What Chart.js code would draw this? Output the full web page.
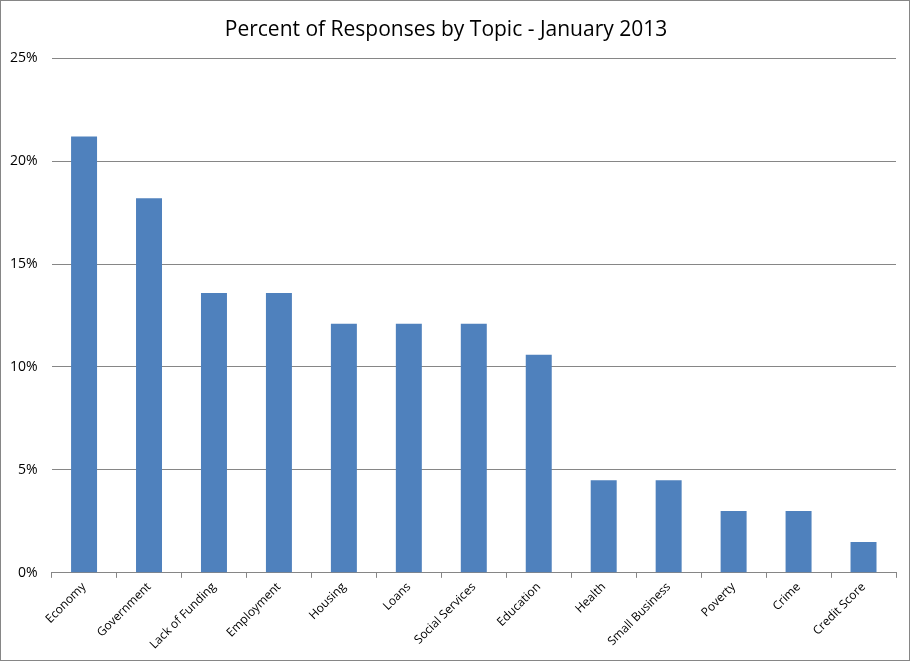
<!DOCTYPE html>
<html lang="en">
<head>
    <meta charset="UTF-8">
    <title>Percent of Responses by Topic - January 2013</title>
    <style>
        body {
            margin: 0;
            padding: 0;
            background: #ffffff;
        }

        .frame {
            position: absolute;
            left: 0;
            top: 0;
            width: 908px;
            height: 659px;
            border: 1px solid #868686;
        }
    </style>
</head>
<body>
    <div class="frame">
        <canvas id="chart" width="908" height="659"></canvas>
    </div>

    <script src="https://cdn.jsdelivr.net/npm/chart.js"></script>
    <script>
        const topics = ['Economy', 'Government', 'Lack of Funding', 'Employment', 'Housing', 'Loans',
            'Social Services', 'Education', 'Health', 'Small Business', 'Poverty', 'Crime', 'Credit Score'];
        const percents = [21.2, 18.2, 13.6, 13.6, 12.1, 12.1, 12.1, 10.6, 4.5, 4.5, 3.0, 3.0, 1.5];
        const yTicks = [0, 5, 10, 15, 20, 25];

        const font = "Open Sans";
        const ctx = document.getElementById('chart').getContext('2d');
        new Chart(ctx, {
            type: 'bar',
            data: {
                labels: topics,
                datasets: [{
                    label: 'Percent',
                    data: percents,
                    backgroundColor: '#4F81BD',
                    borderWidth: 0,
                    categoryPercentage: 1.0,
                    barPercentage: 0.4
                }]
            },
            options: {
                responsive: false,
                animation: false,
                layout: {
                    padding: { left: -5, right: 13, top: 10, bottom: 6 }
                },
                plugins: {
                    legend: { display: false },
                    tooltip: { enabled: false },
                    title: {
                        display: true,
                        text: 'Percent of Responses by Topic - January 2013',
                        color: '#000000',
                        font: { family: font, size: 21, weight: 'normal' },
                        padding: { top: 6, bottom: 16 }
                    }
                },
                scales: {
                    x: {
                        grid: {
                            offset: true,
                            drawOnChartArea: false,
                            drawTicks: true,
                            tickLength: 5,
                            color: '#868686'
                        },
                        border: { display: true, color: '#868686' },
                        ticks: {
                            color: '#000000',
                            font: { family: font, size: 12 },
                            maxRotation: 45,
                            minRotation: 45,
                            padding: 2
                        }
                    },
                    y: {
                        min: 0,
                        max: 25,
                        afterBuildTicks: function(axis) {
                            axis.ticks = yTicks.map(v => ({ value: v }));
                        },
                        grid: {
                            drawTicks: false,
                            color: '#868686'
                        },
                        border: { display: false },
                        ticks: {
                            color: '#000000',
                            font: { family: font, size: 14 },
                            padding: 14,
                            callback: v => v + '%'
                        }
                    }
                }
            }
        });
    </script>
</body>
</html>
